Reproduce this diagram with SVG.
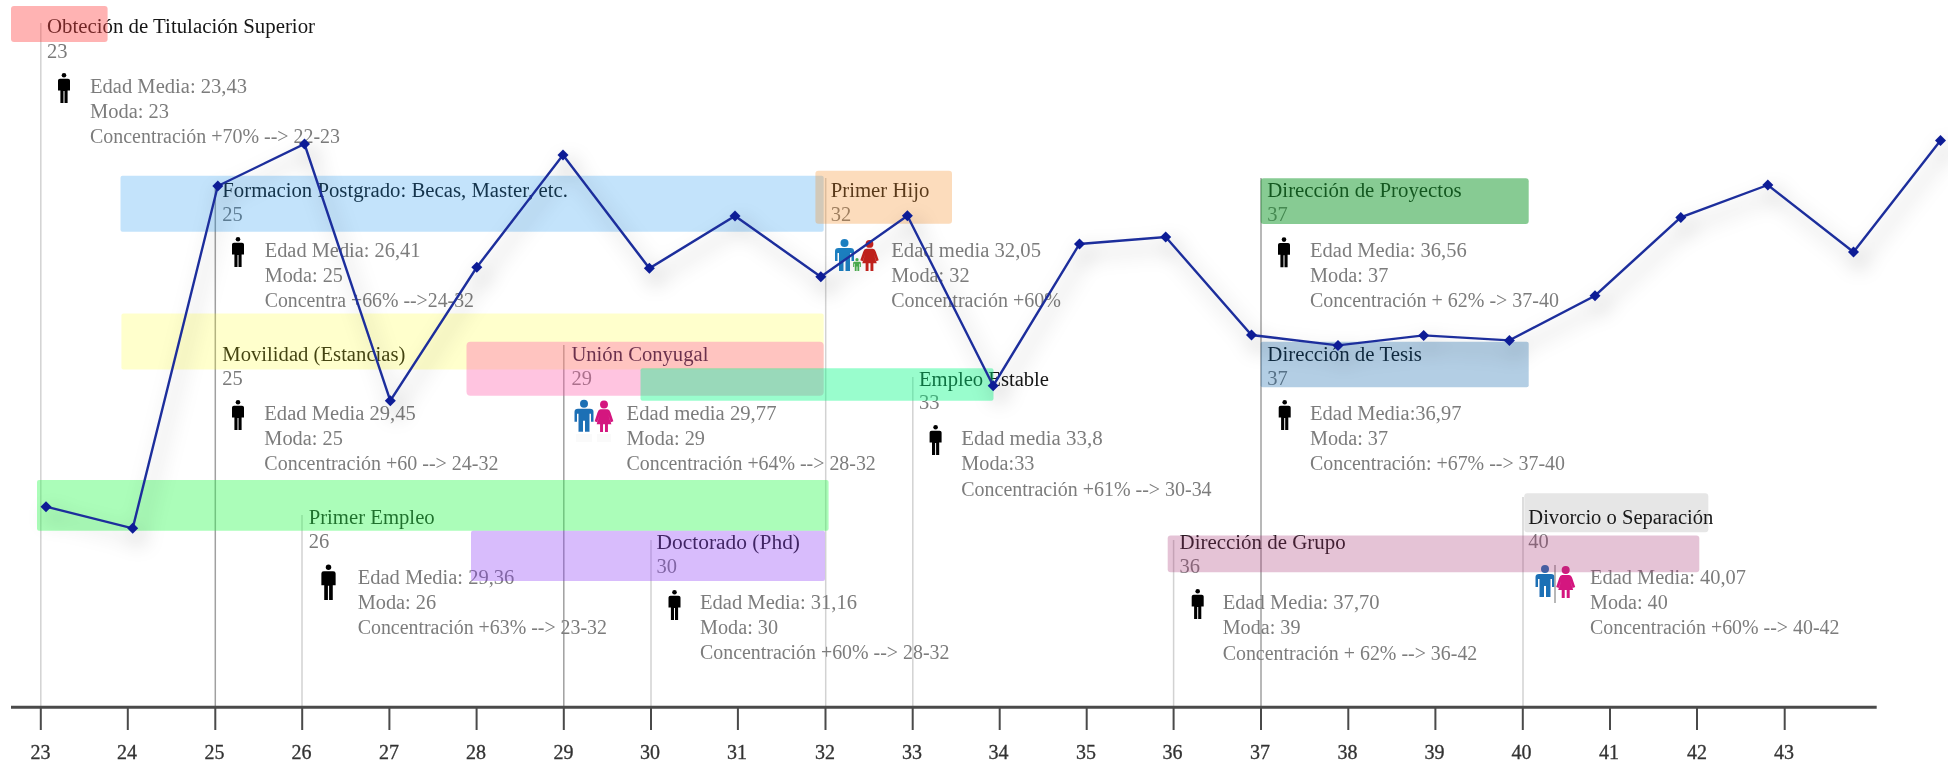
<svg xmlns="http://www.w3.org/2000/svg" width="1948" height="763" viewBox="0 0 1948 763">
<style>
text{font-family:"Liberation Serif","Times New Roman",serif}
.t{font-size:20.500px;fill:#141414;transform:translateY(1px)}
.n{font-size:20.500px;fill:#7a7a7a}
.b{font-size:20.500px;fill:#7c7c7c;transform:translateY(1px)}
.a{font-size:20px;fill:#333;text-anchor:middle;stroke:#333;stroke-width:.3}
.g1{stroke:#d2d2d2;stroke-width:1.5;fill:none}
.g2{stroke:#a0a0a0;stroke-width:1.5;fill:none}
.tick{stroke:#4a4a4a;stroke-width:2;fill:none}
.axis{stroke:#4a4a4a;stroke-width:3;fill:none}
.soft{filter:url(#soft)}
</style>
<defs>
<filter id="soft" x="-5%" y="-5%" width="110%" height="110%"><feGaussianBlur stdDeviation="0.45"/></filter>
<filter id="shadow" filterUnits="userSpaceOnUse" x="0" y="100" width="1948" height="500"><feDropShadow dx="6" dy="10" stdDeviation="10" flood-color="#000" flood-opacity="0.36"/></filter>
<marker id="dia" markerUnits="userSpaceOnUse" markerWidth="14" markerHeight="14" refX="7" refY="7" viewBox="0 0 14 14"><path d="M7 1.500 L12.500 7 L7 12.500 L1.500 7Z" fill="#0a1c96"/></marker>
<symbol id="man" viewBox="-8 0 16 30" overflow="visible"><circle cx="0" cy="2.300" r="2.300"/><path d="M-6 7.500 Q-6 5.800 -4 5.800 H4 Q6 5.800 6 7.500 V17.500 H3.600 V30 H0.500 V18 H-0.500 V30 H-3.600 V17.500 H-6Z"/></symbol>
<symbol id="boy" viewBox="-10 0 20 32" overflow="visible"><circle cx="0" cy="4" r="4"/><path d="M-9.500 12 Q-9.500 9 -6 9 H6 Q9.500 9 9.500 12 V22 H7 V14 H5.500 V32 H1 V21 H-1 V32 H-5.500 V14 H-7 V22 H-9.500Z"/></symbol>
<symbol id="girl" viewBox="-10 0 20 32" overflow="visible"><circle cx="0" cy="4" r="4"/><path d="M-3.500 9 H3.500 Q5.500 9 6.500 12 L9.500 21 L7 22 L4.500 15 L7.500 24 H4 V32 H1 V24 H-1 V32 H-4 V24 H-7.500 L-4.500 15 L-7 22 L-9.500 21 L-6.500 12 Q-5.500 9 -3.500 9Z"/></symbol>
</defs>
<rect width="1948" height="763" fill="#fff"/>
<g id="connectors">
<path class="g1" d="M40.800 23V707"/><path class="g2" d="M215.300 186V707"/><path class="g1" d="M302 515V707"/><path class="g2" d="M563.800 345V707"/><path class="g1" d="M651 540V707"/><path class="g1" d="M825.700 178V707"/><path class="g1" d="M912.800 377V707"/><path class="g1" d="M1173.600 540V707"/><path class="g2" d="M1261 178V707"/><path class="g1" d="M1523 497V707"/>
</g>
<g id="node-titulacion">
<g class="soft"><text class="t" x="47" y="32" textLength="268" lengthAdjust="spacingAndGlyphs">Obteción de Titulación Superior</text><text class="n" x="47" y="57.500">23</text>
<use href="#man" x="56" y="73" width="16" height="30"/>
<text class="b" x="90" y="91.700" textLength="157" lengthAdjust="spacingAndGlyphs">Edad Media: 23,43</text><text class="b" x="90" y="116.700" textLength="79" lengthAdjust="spacingAndGlyphs">Moda: 23</text><text class="b" x="90" y="142.300" textLength="250" lengthAdjust="spacingAndGlyphs">Concentración +70% --&gt; 22-23</text></g>
<rect x="11" y="6" width="96.600" height="36" rx="3" fill="rgb(255,65,65)" fill-opacity=".4"/>
</g>
<g id="node-postgrado">
<g class="soft"><text class="t" x="222.300" y="196" textLength="345.700" lengthAdjust="spacingAndGlyphs">Formacion Postgrado: Becas, Master, etc.</text><text class="n" x="222.300" y="220.700">25</text>
<use href="#man" x="230" y="237" width="16" height="30"/>
<text class="b" x="264.700" y="256" textLength="155.800" lengthAdjust="spacingAndGlyphs">Edad Media: 26,41</text><text class="b" x="264.700" y="281" textLength="78.200" lengthAdjust="spacingAndGlyphs">Moda: 25</text><text class="b" x="264.700" y="306" textLength="209.300" lengthAdjust="spacingAndGlyphs">Concentra +66% --&gt;24-32</text></g>
<rect x="120.500" y="175.700" width="703.200" height="56" rx="2" fill="rgb(16,144,240)" fill-opacity=".25"/>
</g>
<g id="node-movilidad">
<g class="soft"><text class="t" x="222.300" y="360" textLength="183.100" lengthAdjust="spacingAndGlyphs">Movilidad (Estancias)</text><text class="n" x="222.300" y="385">25</text>
<use href="#man" x="230" y="400" width="16" height="30"/>
<text class="b" x="264.300" y="419" textLength="151.500" lengthAdjust="spacingAndGlyphs">Edad Media 29,45</text><text class="b" x="264.300" y="444" textLength="78.600" lengthAdjust="spacingAndGlyphs">Moda: 25</text><text class="b" x="264.300" y="469.300" textLength="234.200" lengthAdjust="spacingAndGlyphs">Concentración +60 --&gt; 24-32</text></g>
<rect x="121.400" y="313.500" width="702.300" height="56" rx="2" fill="rgb(255,255,0)" fill-opacity=".2"/>
</g>
<g id="node-union">
<g class="soft"><text class="t" x="571.400" y="360" textLength="137" lengthAdjust="spacingAndGlyphs">Unión Conyugal</text><text class="n" x="571.400" y="385">29</text>
<use href="#boy" x="574" y="399.500" width="20" height="32.500" fill="#1f6fb5"/><use href="#girl" x="594" y="400.500" width="20" height="31.500" fill="#d4147f"/>
<rect x="576" y="434" width="16" height="8" fill="#000" fill-opacity=".02"/><rect x="597" y="434" width="14" height="8" fill="#000" fill-opacity=".02"/>
<text class="b" x="626.500" y="419" textLength="150" lengthAdjust="spacingAndGlyphs">Edad media 29,77</text><text class="b" x="626.500" y="444" textLength="78.500" lengthAdjust="spacingAndGlyphs">Moda: 29</text><text class="b" x="626.500" y="469.300" textLength="249.300" lengthAdjust="spacingAndGlyphs">Concentración +64% --&gt; 28-32</text></g>
<rect x="466.500" y="341.700" width="357.200" height="54" rx="4" fill="rgb(255,95,171)" fill-opacity=".37"/>
</g>
<g id="node-hijo">
<g class="soft"><text class="t" x="830.700" y="196" textLength="98.700" lengthAdjust="spacingAndGlyphs">Primer Hijo</text><text class="n" x="830.700" y="220.700">32</text>
<use href="#boy" x="834.500" y="239" width="20" height="32" fill="#1f7fc0"/><use href="#boy" x="852.500" y="258" width="9" height="13" fill="#4caf50"/><use href="#girl" x="859.500" y="240" width="20" height="31" fill="#c5221f"/>
<text class="b" x="891.200" y="255.700" textLength="149.800" lengthAdjust="spacingAndGlyphs">Edad media 32,05</text><text class="b" x="891.200" y="280.700" textLength="78.400" lengthAdjust="spacingAndGlyphs">Moda: 32</text><text class="b" x="891.200" y="306" textLength="169.800" lengthAdjust="spacingAndGlyphs">Concentración +60%</text></g>
<rect x="815.400" y="170.700" width="136.600" height="53" rx="3" fill="rgb(245,138,32)" fill-opacity=".3"/>
</g>
<g id="node-empleo-estable">
<g class="soft"><text class="t" x="919" y="385" textLength="130" lengthAdjust="spacingAndGlyphs">Empleo Estable</text><text class="n" x="919" y="409.300">33</text>
<use href="#man" x="927.600" y="425" width="16" height="30"/>
<text class="b" x="961.300" y="444.300" textLength="141.500" lengthAdjust="spacingAndGlyphs">Edad media 33,8</text><text class="b" x="961.300" y="469.300" textLength="73.100" lengthAdjust="spacingAndGlyphs">Moda:33</text><text class="b" x="961.300" y="495" textLength="250.300" lengthAdjust="spacingAndGlyphs">Concentración +61% --&gt; 30-34</text></g>
<rect x="640.500" y="368.300" width="353" height="32.400" rx="2" fill="rgb(0,251,130)" fill-opacity=".4"/>
</g>
<g id="node-primer-empleo">
<g class="soft"><text class="t" x="308.700" y="522.700" textLength="126" lengthAdjust="spacingAndGlyphs">Primer Empleo</text><text class="n" x="308.700" y="548.300">26</text>
<use href="#man" x="319" y="564.300" width="19" height="36"/>
<text class="b" x="357.700" y="582.700" textLength="156.600" lengthAdjust="spacingAndGlyphs">Edad Media: 29,36</text><text class="b" x="357.700" y="607.700" textLength="78.500" lengthAdjust="spacingAndGlyphs">Moda: 26</text><text class="b" x="357.700" y="633.300" textLength="249.300" lengthAdjust="spacingAndGlyphs">Concentración +63% --&gt; 23-32</text></g>
<rect x="37" y="480" width="791.600" height="50.700" rx="2" fill="rgb(45,250,80)" fill-opacity=".4"/>
</g>
<g id="node-doctorado">
<g class="soft"><text class="t" x="656.600" y="548.300" textLength="143.400" lengthAdjust="spacingAndGlyphs">Doctorado (Phd)</text><text class="n" x="656.600" y="573.300">30</text>
<use href="#man" x="666.500" y="590" width="16" height="30"/>
<text class="b" x="700" y="607.700" textLength="157" lengthAdjust="spacingAndGlyphs">Edad Media: 31,16</text><text class="b" x="700" y="633" textLength="78" lengthAdjust="spacingAndGlyphs">Moda: 30</text><text class="b" x="700" y="658.300" textLength="249.400" lengthAdjust="spacingAndGlyphs">Concentración +60% --&gt; 28-32</text></g>
<rect x="471" y="530.700" width="354" height="50.300" rx="2" fill="rgb(143,63,246)" fill-opacity=".35"/>
</g>
<g id="node-proyectos">
<g class="soft"><text class="t" x="1267.300" y="195.700" textLength="194.400" lengthAdjust="spacingAndGlyphs">Dirección de Proyectos</text><text class="n" x="1267.300" y="221">37</text>
<use href="#man" x="1276" y="237.300" width="16" height="30"/>
<text class="b" x="1310" y="256" textLength="156.700" lengthAdjust="spacingAndGlyphs">Edad Media: 36,56</text><text class="b" x="1310" y="280.700" textLength="78.300" lengthAdjust="spacingAndGlyphs">Moda: 37</text><text class="b" x="1310" y="306" textLength="249" lengthAdjust="spacingAndGlyphs">Concentración + 62% -&gt; 37-40</text></g>
<rect x="1260.700" y="178.300" width="268" height="45.700" rx="3" fill="rgb(15,151,39)" fill-opacity=".5"/>
</g>
<g id="node-tesis">
<g class="soft"><text class="t" x="1267.300" y="360" textLength="154.700" lengthAdjust="spacingAndGlyphs">Dirección de Tesis</text><text class="n" x="1267.300" y="385">37</text>
<use href="#man" x="1276.700" y="400" width="16" height="30"/>
<text class="b" x="1310" y="419" textLength="151.500" lengthAdjust="spacingAndGlyphs">Edad Media:36,97</text><text class="b" x="1310" y="444" textLength="78" lengthAdjust="spacingAndGlyphs">Moda: 37</text><text class="b" x="1310" y="469.300" textLength="255" lengthAdjust="spacingAndGlyphs">Concentración: +67% --&gt; 37-40</text></g>
<rect x="1260.700" y="341.700" width="268" height="45.600" rx="2" fill="rgb(2,92,165)" fill-opacity=".3"/>
</g>
<g id="node-divorcio">
<g class="soft"><text class="t" x="1528.300" y="523.300" textLength="185" lengthAdjust="spacingAndGlyphs">Divorcio o Separación</text><text class="n" x="1528.300" y="548.300">40</text>
<use href="#boy" x="1535" y="563" width="20" height="36" fill="#1f6fb5"/><use href="#girl" x="1555.700" y="565" width="20" height="34" fill="#d4147f"/>
<path d="M1555 565V603" stroke="#a0a0a0" stroke-width="1.500"/>
<text class="b" x="1590" y="582.700" textLength="156" lengthAdjust="spacingAndGlyphs">Edad Media: 40,07</text><text class="b" x="1590" y="608.300" textLength="77.700" lengthAdjust="spacingAndGlyphs">Moda: 40</text><text class="b" x="1590" y="633.300" textLength="249.400" lengthAdjust="spacingAndGlyphs">Concentración +60% --&gt; 40-42</text></g>
<rect x="1524.300" y="493.300" width="184" height="39" rx="3" fill="rgb(50,50,50)" fill-opacity=".12"/>
</g>
<g id="node-grupo">
<g class="soft"><text class="t" x="1179.600" y="548.300" textLength="166" lengthAdjust="spacingAndGlyphs">Dirección de Grupo</text><text class="n" x="1179.600" y="573.300">36</text>
<use href="#man" x="1189.700" y="589" width="16" height="30"/>
<text class="b" x="1222.700" y="608.300" textLength="156.900" lengthAdjust="spacingAndGlyphs">Edad Media: 37,70</text><text class="b" x="1222.700" y="633" textLength="77.800" lengthAdjust="spacingAndGlyphs">Moda: 39</text><text class="b" x="1222.700" y="659.300" textLength="254.600" lengthAdjust="spacingAndGlyphs">Concentración + 62% --&gt; 36-42</text></g>
<rect x="1167.700" y="535.500" width="531.600" height="36.800" rx="3" fill="rgb(168,55,118)" fill-opacity=".3"/>
</g>
<g id="axis">
<path class="axis" d="M11 707.300H1876.700"/>
<path class="tick" d="M40.800 707V730M127.800 707V730M215.300 707V730M302.200 707V730M389.400 707V730M476.600 707V730M563.800 707V730M651 707V730M737.900 707V730M825.500 707V730M912.700 707V730M999.700 707V730M1086.700 707V730M1173.600 707V730M1261 707V730M1348.300 707V730M1435.400 707V730M1522.800 707V730M1610 707V730M1697 707V730M1784.700 707V730"/>
<g class="soft"><text class="a" x="40.500" y="759">23</text><text class="a" x="127" y="759">24</text><text class="a" x="214.500" y="759">25</text><text class="a" x="301.500" y="759">26</text><text class="a" x="389" y="759">27</text><text class="a" x="476" y="759">28</text><text class="a" x="563.500" y="759">29</text><text class="a" x="650" y="759">30</text><text class="a" x="737" y="759">31</text><text class="a" x="825" y="759">32</text><text class="a" x="912" y="759">33</text><text class="a" x="998.500" y="759">34</text><text class="a" x="1086" y="759">35</text><text class="a" x="1172.500" y="759">36</text><text class="a" x="1260" y="759">37</text><text class="a" x="1347.500" y="759">38</text><text class="a" x="1434.500" y="759">39</text><text class="a" x="1521.500" y="759">40</text><text class="a" x="1609" y="759">41</text><text class="a" x="1697" y="759">42</text><text class="a" x="1784" y="759">43</text></g>
</g>
<g id="data-line" filter="url(#shadow)">
<polyline fill="none" stroke="#1f2f9c" stroke-width="2.400" stroke-linejoin="miter" marker-start="url(#dia)" marker-mid="url(#dia)" marker-end="url(#dia)" points="46,506.700 132.700,528.300 217.800,186 304.500,144 390.300,400.700 476.800,267.300 563,155 649.400,268.300 735,216 820.800,276.700 907.400,215.700 993.200,385.700 1079.500,244 1165.700,237 1251.500,335 1338,345.400 1423.700,335.400 1509.400,340.400 1595,295.700 1680.800,217.400 1767.800,185 1853.500,252 1940.500,140.400"/>
</g>
</svg>
